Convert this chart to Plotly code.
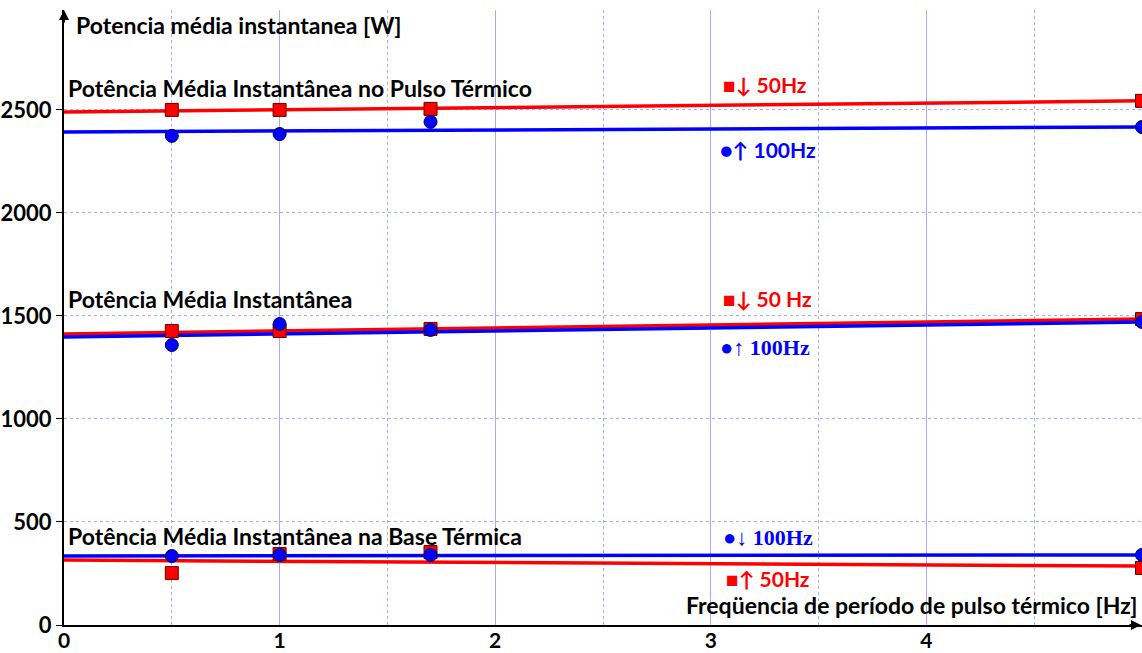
import plotly.graph_objects as go

# ---- data ----
x_pts = [0.5, 1.0, 1.7, 5.0]
x_fit = [0.0, 5.0]

pulse_50_pts = [2500, 2500, 2505, 2544]
pulse_100_pts = [2374, 2383, 2442, 2417]
pulse_50_fit = [2490, 2544]
pulse_100_fit = [2393, 2417]

mean_50_pts = [1427, 1427, 1437, 1485]
mean_100_pts = [1359, 1461, 1432, 1471]
mean_50_fit = [1413, 1485]
mean_100_fit = [1398, 1471]

base_50_pts = [252, 345, 354, 277]
base_100_pts = [335, 340, 340, 340]
base_50_fit = [315, 286]
base_100_fit = [335, 340]

x_ticks = [0, 1, 2, 3, 4]
y_ticks = [0, 500, 1000, 1500, 2000, 2500]

RED = "#ff0000"
BLUE = "#0000ff"
GRID = "#a8a8ff"
FONT = "Lato"

fig = go.Figure()

def add_group(fit50, fit100, pts50, pts100):
    fig.add_trace(go.Scatter(x=x_fit, y=fit50, mode="lines",
                             line=dict(color=RED, width=3.5), showlegend=False, hoverinfo="skip"))
    fig.add_trace(go.Scatter(x=x_fit, y=fit100, mode="lines",
                             line=dict(color=BLUE, width=3.5), showlegend=False, hoverinfo="skip"))
    fig.add_trace(go.Scatter(x=x_pts, y=pts50, mode="markers",
                             marker=dict(symbol="square", size=13, color=RED,
                                         line=dict(color="#600000", width=1)),
                             showlegend=False))
    fig.add_trace(go.Scatter(x=x_pts, y=pts100, mode="markers",
                             marker=dict(symbol="circle", size=13, color=BLUE,
                                         line=dict(color="#000040", width=1)),
                             showlegend=False))

add_group(pulse_50_fit, pulse_100_fit, pulse_50_pts, pulse_100_pts)
add_group(mean_50_fit, mean_100_fit, mean_50_pts, mean_100_pts)
add_group(base_50_fit, base_100_fit, base_50_pts, base_100_pts)

def label(text, x, y, color="black", family=FONT, size=23, xanchor="left"):
    fig.add_annotation(x=x, y=y, xref="paper", yref="paper", text="<b>%s</b>" % text,
                       showarrow=False, xanchor=xanchor, yanchor="middle",
                       font=dict(family=family, size=size, color=color))

W, H = 1142, 653
L, T, B = 64, 10, 28
pw, ph = W - L, H - T - B

def px(xp):
    return (xp - L) / pw

def py(yp):
    return (H - B - yp) / ph

label("Potencia média instantanea [W]", px(74), py(25))
label("Potência Média Instantânea no Pulso Térmico", px(66), py(88))
label("Potência Média Instantânea", px(66), py(299))
label("Potência Média Instantânea na Base Térmica", px(66), py(536))
label("Freqüencia de período de pulso térmico [Hz]", px(1140), py(605), xanchor="right")

label("■↓ 50Hz", px(721), py(84), color=RED, size=21)
label("●↑ 100Hz", px(718), py(149), color=BLUE, size=21)
label("■↓ 50 Hz", px(721), py(298), color=RED, size=21)
label("●↑ 100Hz", px(718), py(347), color=BLUE, family="Liberation Serif", size=22)
label("●↓ 100Hz", px(721), py(537), color=BLUE, family="Liberation Serif", size=22)
label("■↑ 50Hz", px(724), py(578), color=RED, size=21)

# axis arrows
fig.add_annotation(x=0, y=1, xref="paper", yref="paper", ax=0, ay=14, axref="pixel", ayref="pixel",
                   text="", showarrow=True, arrowhead=2, arrowsize=1, arrowwidth=2, arrowcolor="black")
fig.add_annotation(x=1, y=0, xref="paper", yref="paper", ax=-14, ay=0, axref="pixel", ayref="pixel",
                   text="", showarrow=True, arrowhead=2, arrowsize=1, arrowwidth=2, arrowcolor="black")

fig.update_layout(
    width=W, height=H,
    margin=dict(l=L, r=0, t=T, b=B, autoexpand=False),
    plot_bgcolor="white", paper_bgcolor="white",
    font=dict(family=FONT, size=22, color="black"),
    xaxis=dict(range=[0, 5], tickvals=x_ticks, ticktext=[str(v) for v in x_ticks],
               automargin=False, ticklabelstandoff=-4,
               showgrid=True, gridcolor=GRID, gridwidth=1,
               minor=dict(dtick=0.5, showgrid=True, gridcolor=GRID, griddash="dot", gridwidth=1),
               showline=True, linecolor="black", linewidth=2, zeroline=False,
               ticks="", tickfont=dict(family=FONT, size=21, color="black", weight="bold")),
    yaxis=dict(range=[0, 2985], tickvals=y_ticks, ticktext=[str(v) for v in y_ticks],
               automargin=False,
               showgrid=True, gridcolor=GRID, griddash="dot", gridwidth=1,
               showline=True, linecolor="black", linewidth=2, zeroline=False,
               ticks="outside", ticklen=6, tickcolor="black",
               tickfont=dict(family=FONT, size=22, color="black", weight="bold")),
)

fig.write_html("out.html")
